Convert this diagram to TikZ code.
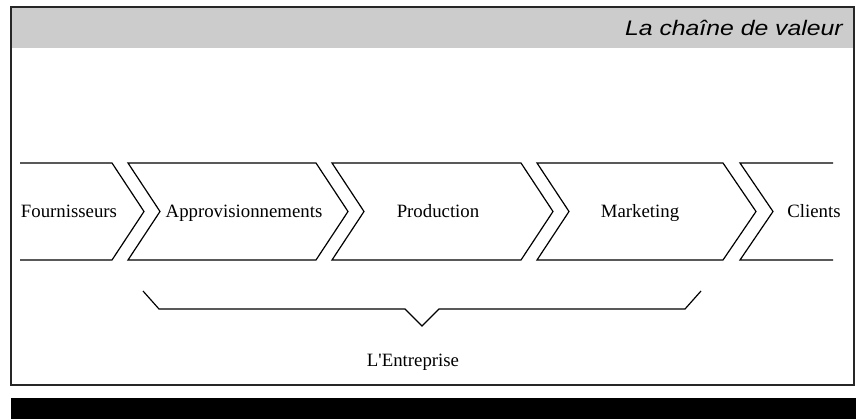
\documentclass[tikz,border=0pt]{standalone}
\usepackage{fontspec}
\setmainfont{Liberation Serif}
\newfontfamily\titlefont{Liberation Sans}
\begin{document}
\begin{tikzpicture}[x=1pt,y=-1pt,
  frameline/.style={draw=black!85,line width=2pt},
  chev/.style={draw=black,line width=1.2pt,line join=miter},
  stagelabel/.style={inner sep=0pt,anchor=base,font=\fontsize{18.8}{20}\selectfont},
  brace/.style={draw=black,line width=1.2pt}]
  \useasboundingbox (0,0) rectangle (856,419);
  % header band and outer frame
  \fill[black!20] (11,7) rectangle (854,48);
  \draw[frameline] (11,7) rectangle (854,385);
  \fill[black] (11,398) rectangle (856,419);
  \node[inner sep=0pt,anchor=base east,font=\titlefont\itshape\fontsize{21}{23}\selectfont,xscale=1.18]
    (title) at (843,35.5) {La chaîne de valeur};
  % value chain arrows
  \draw[chev] (20,163) -- (112,163) -- (144,211.5) -- (112,260) -- (20,260);
  \draw[chev] (128,163) -- (316,163) -- (348,211.5) -- (316,260) -- (128,260) -- (160,211.5) -- cycle;
  \draw[chev] (332,163) -- (521,163) -- (553,211.5) -- (521,260) -- (332,260) -- (364,211.5) -- cycle;
  \draw[chev] (537,163) -- (723,163) -- (756,211.5) -- (723,260) -- (537,260) -- (569,211.5) -- cycle;
  \draw[chev] (833,163) -- (740,163) -- (773,211.5) -- (740,260) -- (833,260);
  % stage labels
  \node[stagelabel] (four) at (69,218) {Fournisseurs};
  \node[stagelabel] (appro) at (244,218) {Approvisionnements};
  \node[stagelabel] (prod) at (438,218) {Production};
  \node[stagelabel] (mark) at (640,218) {Marketing};
  \node[stagelabel] (cli) at (814,218) {Clients};
  % brace under the company stages
  \draw[brace] (143,291) -- (159,309) -- (405,309) -- (422,326) -- (439,309) -- (685,309) -- (701,291);
  \node[stagelabel] (ent) at (413,366) {L\textquotesingle Entreprise};
\end{tikzpicture}
\end{document}
